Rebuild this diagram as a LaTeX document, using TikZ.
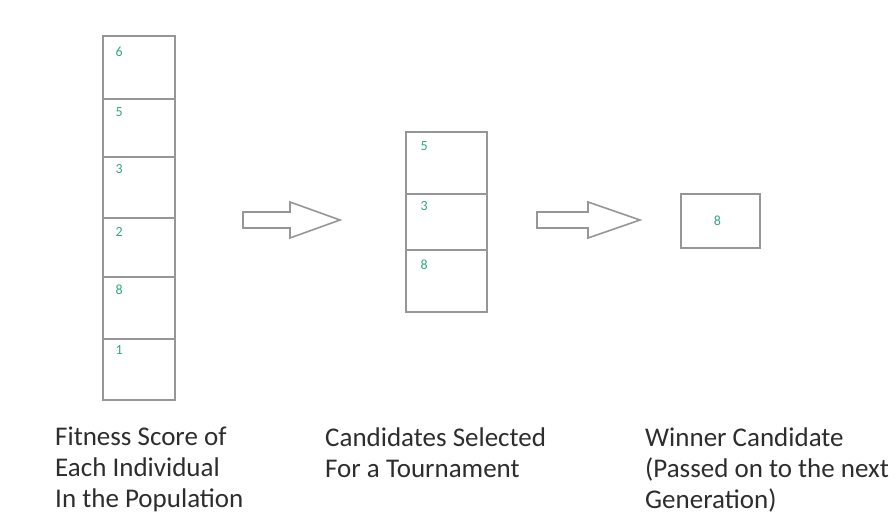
\documentclass[tikz,border=0pt]{standalone}
\usepackage{fontspec}
\setmainfont{Carlito}
\definecolor{cellline}{RGB}{150,150,150}
\definecolor{scoregreen}{RGB}{52,165,128}
\definecolor{labeltext}{RGB}{45,45,45}
\begin{document}
\begin{tikzpicture}[x=1pt,y=-1pt,
  cell/.style={draw=cellline,line width=1.6pt,inner sep=0pt},
  score/.style={text=scoregreen,font=\fontsize{14}{14}\selectfont,inner sep=0pt},
  caption/.style={text=labeltext,align=left,anchor=north west,inner sep=0pt,
    font=\fontsize{27}{31}\selectfont},
  bigarrow/.style={draw=cellline,line width=1.6pt,fill=white,line join=miter}]
\useasboundingbox (0,0) rectangle (896,519);

% population column: six cells
\node[cell,minimum width=72pt,minimum height=63pt] (p1) at (139,67.5) {};
\node[cell,minimum width=72pt,minimum height=58pt] (p2) at (139,128) {};
\node[cell,minimum width=72pt,minimum height=61pt] (p3) at (139,187.5) {};
\node[cell,minimum width=72pt,minimum height=59pt] (p4) at (139,247.5) {};
\node[cell,minimum width=72pt,minimum height=62pt] (p5) at (139,308) {};
\node[cell,minimum width=72pt,minimum height=61pt] (p6) at (139,369.5) {};
\node[score] (s1) at ([xshift=17pt,yshift=-17pt]p1.north west) {6};
\node[score] (s2) at ([xshift=17pt,yshift=-14pt]p2.north west) {5};
\node[score] (s3) at ([xshift=17pt,yshift=-13pt]p3.north west) {3};
\node[score] (s4) at ([xshift=17pt,yshift=-15pt]p4.north west) {2};
\node[score] (s5) at ([xshift=17pt,yshift=-14pt]p5.north west) {8};
\node[score] (s6) at ([xshift=17pt,yshift=-12pt]p6.north west) {1};

% tournament column: three cells
\node[cell,minimum width=81pt,minimum height=62pt] (t1) at (446.5,163) {};
\node[cell,minimum width=81pt,minimum height=56pt] (t2) at (446.5,222) {};
\node[cell,minimum width=81pt,minimum height=62pt] (t3) at (446.5,281) {};
\node[score] (u1) at ([xshift=19pt,yshift=-15pt]t1.north west) {5};
\node[score] (u2) at ([xshift=19pt,yshift=-13pt]t2.north west) {3};
\node[score] (u3) at ([xshift=19pt,yshift=-16pt]t3.north west) {8};

% winner box
\node[cell,minimum width=79pt,minimum height=54pt] (w) at (720.5,221) {};
\node[score] (ws) at ([xshift=-3pt]w.center) {8};

% block arrows
\draw[bigarrow] (243,212) -- (290,212) -- (290,202) -- (340,220)
  -- (290,238) -- (290,228) -- (243,228) -- cycle;
\draw[bigarrow] (537,212) -- (588,212) -- (588,202) -- (640,220)
  -- (588,238) -- (588,228) -- (537,228) -- cycle;

% captions
\node[caption] (c1) at (55,427) {Fitness Score of\\Each Individual\\In the Population};
\node[caption] (c2) at (325,428) {Candidates Selected\\For a Tournament};
\node[caption] (c3) at (645,428) {Winner Candidate\\(Passed on to the next\\Generation)};
\end{tikzpicture}
\end{document}
